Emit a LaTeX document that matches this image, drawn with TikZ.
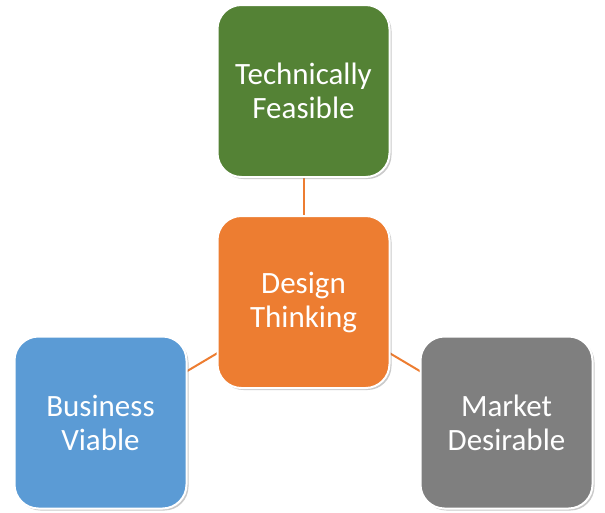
\documentclass[tikz,border=0pt]{standalone}
\usepackage{fontspec}
\setmainfont{Carlito}
\usetikzlibrary{shadows}
\definecolor{cgreen}{HTML}{548235}
\definecolor{corange}{HTML}{ED7D31}
\definecolor{cblue}{HTML}{5B9BD5}
\definecolor{cgray}{HTML}{7F7F7F}
\tikzset{
  box/.style={draw=white, line width=2pt, rounded corners=24pt,
    minimum width=172pt, minimum height=172pt, text=white, align=center,
    font=\fontsize{31}{34}\selectfont,
    drop shadow={shadow xshift=2pt, shadow yshift=-2pt, opacity=0.35, fill=black!60}},
  link/.style={draw=corange, line width=2pt}
}
\begin{document}
\begin{tikzpicture}[x=1pt,y=-1pt]
\useasboundingbox (0,0) rectangle (605,512);
\coordinate (pc) at (303.5,302);
\coordinate (pt) at (303.5,91);
\coordinate (pl) at (100.5,422.5);
\coordinate (pr) at (506.5,422.5);
\draw[link] (pc) -- (pt);
\draw[link] (pc) -- (pl);
\draw[link] (pc) -- (pr);
\node[box, fill=cgreen] (tech) at (pt) {Technically\\Feasible};
\node[box, fill=cblue] (bus) at (pl) {Business\\Viable};
\node[box, fill=cgray] (mkt) at (pr) {Market\\Desirable};
\node[box, fill=corange] (dt) at (pc) {Design\\Thinking};
\end{tikzpicture}
\end{document}
